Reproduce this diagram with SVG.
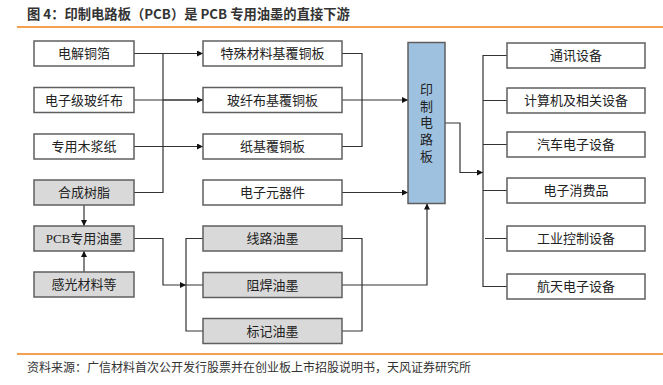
<svg xmlns="http://www.w3.org/2000/svg" width="663" height="385" viewBox="0 0 663 385">
<style>
.t{font-family:"Liberation Sans","Noto Sans CJK SC",sans-serif;font-size:13px;fill:#222;text-anchor:middle;dominant-baseline:central}
.w{fill:#fff;stroke:#5f5f5f;stroke-width:1.5}
.g{fill:#d9d9d9;stroke:#5f5f5f;stroke-width:1.5}
.c{fill:none;stroke:#333;stroke-width:1.2}
</style>
<defs>
<marker id="a" viewBox="0 0 10 10" refX="10" refY="5" markerWidth="6" markerHeight="6" markerUnits="userSpaceOnUse" orient="auto"><path d="M0,0 L10,5 L0,10 z" fill="#111"/></marker>
</defs>
<rect width="663" height="385" fill="#fff"/>
<text x="27" y="19" font-family="'Noto Sans CJK SC',sans-serif" font-size="13.3" font-weight="bold" fill="#333">图 4：印制电路板（PCB）是 PCB 专用油墨的直接下游</text>
<line x1="17" y1="27" x2="663" y2="27" stroke="#f5a050" stroke-width="2"/>
<line x1="17" y1="354" x2="663" y2="354" stroke="#f5a050" stroke-width="2"/>
<text x="27" y="372" font-family="'Noto Sans CJK SC',sans-serif" font-size="12" fill="#333">资料来源：广信材料首次公开发行股票并在创业板上市招股说明书，天风证券研究所</text>

<g id="connectors">
<path class="c" d="M134,53.5 H163 M134,100 H203 M134,146.5 H203 M134,192.5 H163 V53.5"/>
<path class="c" d="M163,53.5 H203" marker-end="url(#a)"/>
<path class="c" d="M163,100 H203" marker-end="url(#a)"/>
<path class="c" d="M163,146.5 H203" marker-end="url(#a)"/>
<path class="c" d="M84,205 V226" marker-end="url(#a)"/>
<path class="c" d="M84,272 V251" marker-end="url(#a)"/>
<path class="c" d="M134,238.5 H163 V285 H186" marker-end="url(#a)"/>
<path class="c" d="M203,238.5 H186 V331 H203 M186,285 H203"/>
<path class="c" d="M342,238.5 H362 V331 H342 M342,285 H427 V203.5" marker-end="url(#a)"/>
<path class="c" d="M342,53.5 H362 V146.5 H342 M342,100 H362"/>
<path class="c" d="M362,100 H408" marker-end="url(#a)"/>
<path class="c" d="M342,192.5 H408" marker-end="url(#a)"/>
<path class="c" d="M445,123 H460 V172.5 H483" marker-end="url(#a)"/>
<path class="c" d="M507,55.5 H483 V286.5 H507 M483,100.5 H507 M483,144.5 H507 M483,190.5 H507 M485,238.5 H507"/>
</g>

<g id="n1"><rect class="w" x="34" y="41" width="100" height="25"/><text class="t" x="84" y="53.5">电解铜箔</text></g>
<g id="n2"><rect class="w" x="34" y="87.5" width="100" height="25"/><text class="t" x="84" y="100">电子级玻纤布</text></g>
<g id="n3"><rect class="w" x="34" y="134" width="100" height="25"/><text class="t" x="84" y="146.5">专用木浆纸</text></g>
<g id="n4"><rect class="g" x="34" y="180" width="100" height="25"/><text class="t" x="84" y="192.5">合成树脂</text></g>
<g id="n5"><rect class="g" x="34" y="226" width="100" height="25"/><text class="t" x="84" y="238.5" style="font-family:'Liberation Serif','Noto Sans CJK SC',serif">PCB专用油墨</text></g>
<g id="n6"><rect class="g" x="34" y="272" width="100" height="25"/><text class="t" x="84" y="284.5">感光材料等</text></g>

<g id="m1"><rect class="w" x="203" y="41" width="139" height="25"/><text class="t" x="272.5" y="53.5">特殊材料基覆铜板</text></g>
<g id="m2"><rect class="w" x="203" y="87.5" width="139" height="25"/><text class="t" x="272.5" y="100">玻纤布基覆铜板</text></g>
<g id="m3"><rect class="w" x="203" y="134" width="139" height="25"/><text class="t" x="272.5" y="146.5">纸基覆铜板</text></g>
<g id="m4"><rect class="w" x="203" y="180" width="139" height="25"/><text class="t" x="272.5" y="192.5">电子元器件</text></g>
<g id="m5"><rect class="g" x="203" y="226" width="139" height="25"/><text class="t" x="272.5" y="238.5">线路油墨</text></g>
<g id="m6"><rect class="g" x="203" y="272.5" width="139" height="25"/><text class="t" x="272.5" y="285">阻焊油墨</text></g>
<g id="m7"><rect class="g" x="203" y="318.5" width="139" height="25"/><text class="t" x="272.5" y="331">标记油墨</text></g>

<g id="pcb"><rect x="408" y="42.5" width="37" height="161" fill="#9fc1e0" stroke="#5f5f5f" stroke-width="1.5"/>
<text class="t" x="426.5" y="89">印</text><text class="t" x="426.5" y="106">制</text><text class="t" x="426.5" y="122.5">电</text><text class="t" x="426.5" y="139.5">路</text><text class="t" x="426.5" y="156">板</text></g>

<g id="r1"><rect class="w" x="507" y="43" width="138" height="25"/><text class="t" x="576" y="55.5">通讯设备</text></g>
<g id="r2"><rect class="w" x="507" y="88" width="138" height="25"/><text class="t" x="576" y="100.5">计算机及相关设备</text></g>
<g id="r3"><rect class="w" x="507" y="132" width="138" height="25"/><text class="t" x="576" y="144.5">汽车电子设备</text></g>
<g id="r4"><rect class="w" x="507" y="178" width="138" height="25"/><text class="t" x="576" y="190.5">电子消费品</text></g>
<g id="r5"><rect class="w" x="507" y="226" width="138" height="25"/><text class="t" x="576" y="238.5">工业控制设备</text></g>
<g id="r6"><rect class="w" x="507" y="274" width="138" height="25"/><text class="t" x="576" y="286.5">航天电子设备</text></g>
</svg>
